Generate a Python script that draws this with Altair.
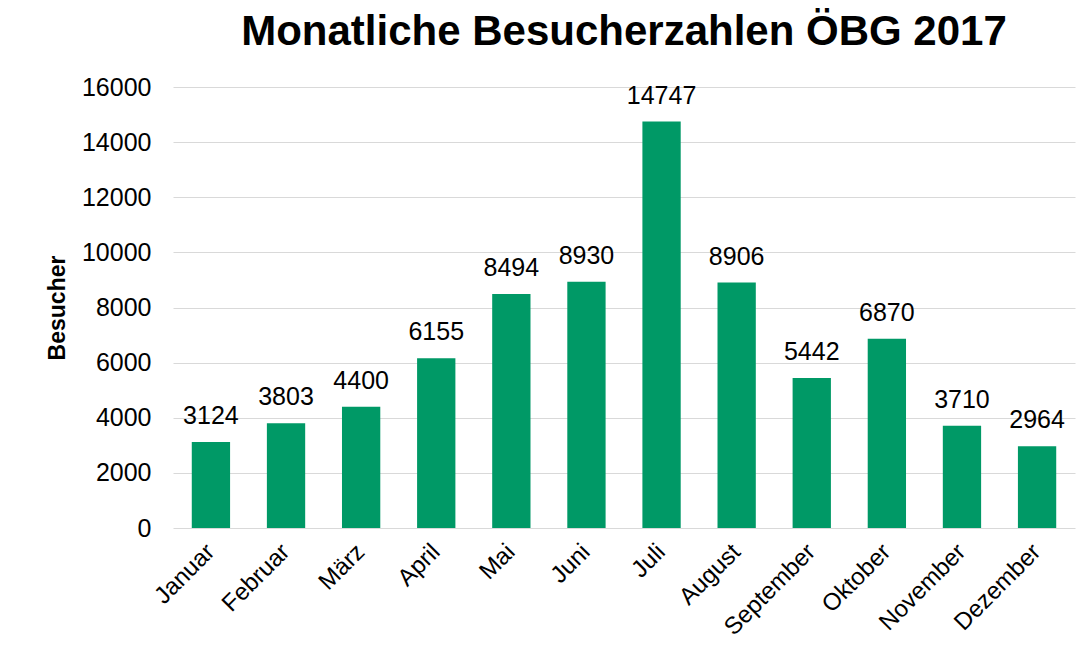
import altair as alt
import pandas as pd

months = ["Januar", "Februar", "März", "April", "Mai", "Juni", "Juli",
          "August", "September", "Oktober", "November", "Dezember"]
visitors = [3124, 3803, 4400, 6155, 8494, 8930, 14747, 8906, 5442, 6870, 3710, 2964]

df = pd.DataFrame({"Monat": months, "Besucher": visitors})

base = alt.Chart(df).encode(
    x=alt.X("Monat:N", sort=months,
            scale=alt.Scale(paddingInner=0.49, paddingOuter=0.25),
            axis=alt.Axis(title=None, labelAngle=-45, labelAlign="right",
                          labelBaseline="middle", labelFontSize=24,
                          labelFont="Liberation Sans", labelColor="#000000",
                          labelPadding=20, ticks=False, domain=False,
                          grid=False)),
    y=alt.Y("Besucher:Q",
            scale=alt.Scale(domain=[0, 16000], nice=False),
            axis=alt.Axis(title="Besucher", values=list(range(0, 16001, 2000)),
                          format="d",
                          titleFontSize=23, titleFont="Liberation Sans",
                          titleFontWeight="bold", titleColor="#000000",
                          titlePadding=12, labelFontSize=25,
                          labelFont="Liberation Sans", labelColor="#000000",
                          labelPadding=22, ticks=False, domain=False,
                          gridColor="#d9d9d9", gridWidth=1)),
)

bars = base.mark_bar(color="#009966")
labels = base.mark_text(dy=-18, baseline="alphabetic", fontSize=25,
                        font="Liberation Sans",
                        color="#000000").encode(text="Besucher:Q")

chart = (bars + labels).properties(
    width=902, height=441,
    background="#ffffff",
    title=alt.TitleParams("Monatliche Besucherzahlen ÖBG 2017",
                          fontSize=42, font="Liberation Sans",
                          fontWeight="bold", color="#000000",
                          anchor="middle", offset=21),
    autosize=alt.AutoSizeParams(type="none"),
    padding={"left": 173, "top": 87, "right": 15, "bottom": 124},
).configure_view(stroke=None)

chart.save("out.html", embed_options={"renderer": "svg", "actions": False})
